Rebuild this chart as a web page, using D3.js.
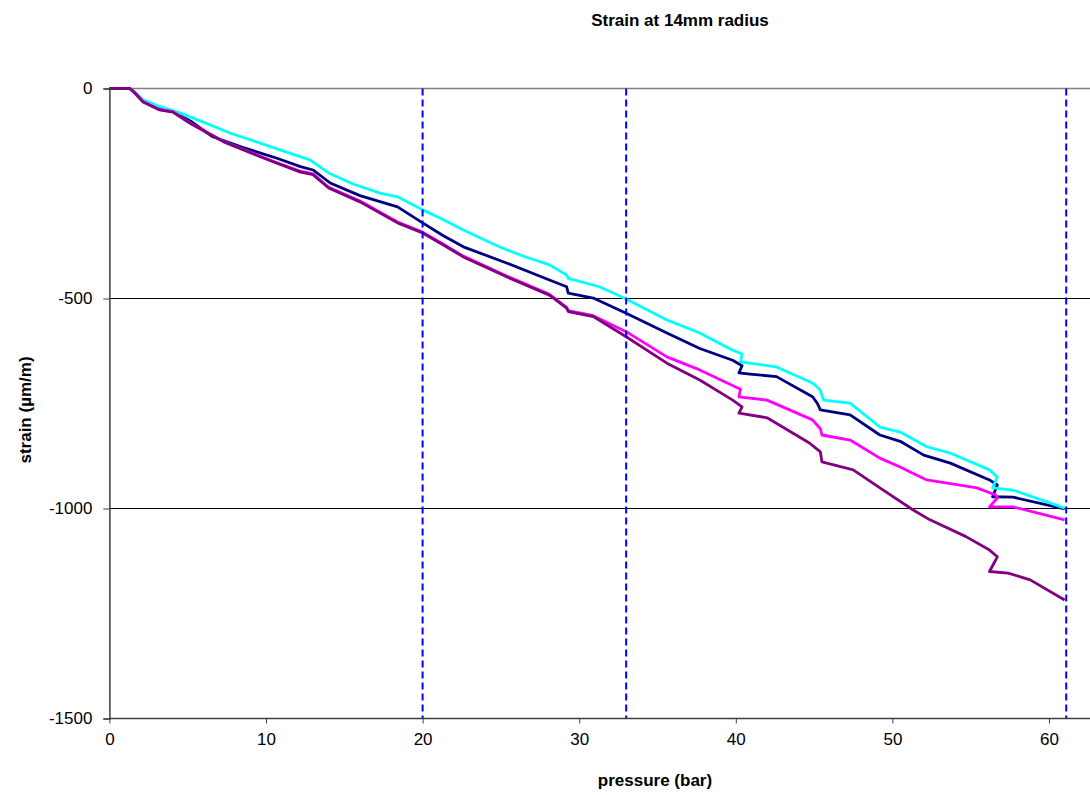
<!DOCTYPE html>
<html>
<head>
<meta charset="utf-8">
<script src="https://cdn.jsdelivr.net/npm/d3@7"></script>
<style>
  html, body { margin: 0; padding: 0; background: #fff; }
  svg { display: block; font-family: "Liberation Sans", Arial, sans-serif; }
</style>
</head>
<body>
<svg id="chart" width="1090" height="795"></svg>
<script>
// Strain gauge readings against applied pressure (four gauges at 14 mm radius)
const cyanPressure = [0, 1.3, 1.5, 2.15, 3.0, 4.5, 6.0, 7.7, 9.3, 10.9, 12.8, 14.0, 15.6, 17.3, 18.4, 20.0, 21.3, 22.6, 24.9, 26.5, 28.1, 29.2, 29.3, 31.3, 33.0, 35.6, 37.7, 39.8, 40.4, 40.3, 42.6, 44.9, 45.4, 45.6, 47.3, 49.2, 50.5, 52.2, 53.7, 56.2, 56.7, 56.4, 57.7, 61.0];
const cyanStrain   = [0, 0, -5, -27, -40, -58, -80, -106, -126, -146, -170, -201, -228, -249, -258, -289, -312, -337, -377, -400, -420, -444, -452, -472, -501, -551, -582, -623, -632, -651, -663, -701, -718, -742, -749, -806, -818, -853, -868, -908, -925, -951, -956, -999];

const navyPressure = [0, 1.3, 1.6, 2.15, 3.2, 4.0, 5.2, 6.6, 8.5, 10.7, 12.2, 13.0, 14.1, 16.0, 18.4, 20.0, 21.3, 22.6, 25.4, 28.1, 29.2, 29.3, 30.9, 33.0, 35.6, 37.7, 39.8, 40.4, 40.2, 40.9, 42.6, 44.9, 45.2, 45.4, 47.3, 49.2, 50.5, 52.0, 53.7, 56.2, 56.7, 56.4, 57.7, 61.0];
const navyStrain   = [0, 0, -8, -30, -48, -54, -78, -115, -140, -166, -186, -194, -225, -255, -282, -320, -350, -377, -416, -456, -472, -487, -499, -535, -582, -619, -647, -660, -677, -680, -686, -734, -749, -765, -777, -825, -840, -873, -892, -932, -944, -972, -973, -1001];

const magentaPressure = [0, 1.3, 1.6, 2.15, 3.2, 4.05, 5.15, 7.3, 8.8, 10.5, 12.2, 13.0, 14.0, 16.0, 18.4, 20.0, 21.3, 22.6, 25.4, 28.1, 29.2, 29.3, 30.9, 33.0, 35.6, 37.7, 40.3, 40.2, 42.0, 44.9, 45.4, 45.5, 47.3, 49.2, 50.5, 51.3, 52.2, 55.4, 56.6, 56.7, 56.2, 57.7, 61.0];
const magentaStrain   = [0, 0, -9, -31, -50, -55, -82, -126, -149, -174, -197, -203, -235, -268, -318, -342, -370, -399, -447, -490, -521, -529, -541, -579, -639, -670, -716, -734, -742, -789, -810, -825, -837, -880, -901, -916, -932, -951, -968, -975, -996, -996, -1027];

const purplePressure = [0, 1.3, 1.6, 2.15, 3.2, 4.05, 5.15, 7.3, 8.8, 10.5, 12.2, 13.0, 14.0, 16.0, 18.4, 20.0, 21.3, 22.6, 25.4, 28.1, 29.2, 29.3, 30.9, 33.0, 35.6, 37.7, 39.8, 40.4, 40.2, 42.0, 44.7, 45.4, 45.5, 47.5, 49.2, 51.3, 52.4, 54.7, 56.2, 56.7, 56.2, 57.4, 58.8, 61.0];
const purpleStrain   = [0, 0, -10, -32, -51, -56, -83, -127, -150, -175, -199, -205, -237, -270, -320, -344, -372, -401, -449, -492, -523, -531, -543, -591, -654, -694, -742, -758, -773, -784, -844, -865, -889, -908, -951, -1003, -1027, -1067, -1099, -1115, -1150, -1154, -1170, -1218];

// Reference pressures marked with dashed verticals
const markerPressures = [20, 33, 61.1];

const xTicks = [0, 10, 20, 30, 40, 50, 60];
const yTicks = [0, -500, -1000, -1500];
const gridValues = [-500, -1000];

const titleText = "Strain at 14mm radius";
const xTitle = "pressure (bar)";
const yTitle = "strain (\u00b5m/m)";

const series = [
  { p: navyPressure,    s: navyStrain,    color: "#000080" },
  { p: cyanPressure,    s: cyanStrain,    color: "#00FFFF" },
  { p: magentaPressure, s: magentaStrain, color: "#FF00FF" },
  { p: purplePressure,  s: purpleStrain,  color: "#800080" }
];

const svg = d3.select("#chart");

const x = d3.scaleLinear().domain([0, 63]).range([109.4, 109.4 + 63 * 15.66]);
const y = d3.scaleLinear().domain([-1500, 0]).range([718.5, 88.5]);

// plain hyphen-minus for negative tick labels
const fmt = d => String(d);

// horizontal gridlines
svg.append("g").selectAll("line").data(gridValues).join("line")
  .attr("x1", x(0)).attr("x2", 1090)
  .attr("y1", d => y(d)).attr("y2", d => y(d))
  .attr("stroke", "#000").attr("stroke-width", 1);

// top border of the plot area
svg.append("line")
  .attr("x1", x(0)).attr("x2", 1090)
  .attr("y1", y(0)).attr("y2", y(0))
  .attr("stroke", "#808080").attr("stroke-width", 1.5);

// strain curves
const line = d3.line().x(d => x(d[0])).y(d => y(d[1]));
svg.append("g").selectAll("path").data(series).join("path")
  .attr("d", d => line(d.p.map((v, i) => [v, d.s[i]])))
  .attr("fill", "none")
  .attr("stroke", d => d.color)
  .attr("stroke-width", 2.8)
  .attr("stroke-linejoin", "round");

// dashed reference lines
svg.append("g").selectAll("line").data(markerPressures).join("line")
  .attr("x1", d => x(d)).attr("x2", d => x(d))
  .attr("y1", y(0)).attr("y2", y(-1500))
  .attr("stroke", "#0000FF").attr("stroke-width", 2)
  .attr("stroke-dasharray", "7,4");

// axes
const xAxis = d3.axisBottom(x).tickValues(xTicks).tickSize(5).tickPadding(9).tickFormat(fmt);
const gx = svg.append("g").attr("transform", `translate(0,${y(-1500)})`).call(xAxis);
gx.select(".domain").attr("d", `M${x(0)},0H1090`).attr("stroke", "#404040").attr("stroke-width", 1.5);
gx.selectAll(".tick line").attr("stroke", "#404040");
gx.selectAll("text").attr("font-size", 17).attr("fill", "#000").attr("font-family", "Liberation Sans, Arial, sans-serif");

const yAxis = d3.axisLeft(y).tickValues(yTicks).tickSize(6).tickPadding(11).tickFormat(fmt);
const gy = svg.append("g").attr("transform", `translate(${x(0)},0)`).call(yAxis);
gy.select(".domain").attr("stroke", "#404040").attr("stroke-width", 1.5);
gy.selectAll(".tick line").attr("stroke", "#404040");
gy.selectAll("text").attr("font-size", 17).attr("fill", "#000").attr("font-family", "Liberation Sans, Arial, sans-serif");

// titles
svg.append("text").attr("x", 680).attr("y", 26)
  .attr("text-anchor", "middle").attr("font-size", 17).attr("font-weight", "bold")
  .text(titleText);
svg.append("text").attr("x", 655).attr("y", 786)
  .attr("text-anchor", "middle").attr("font-size", 17).attr("font-weight", "bold")
  .text(xTitle);
svg.append("text").attr("transform", "translate(31,410) rotate(-90)")
  .attr("text-anchor", "middle").attr("font-size", 17).attr("font-weight", "bold")
  .text(yTitle);
</script>
</body>
</html>
